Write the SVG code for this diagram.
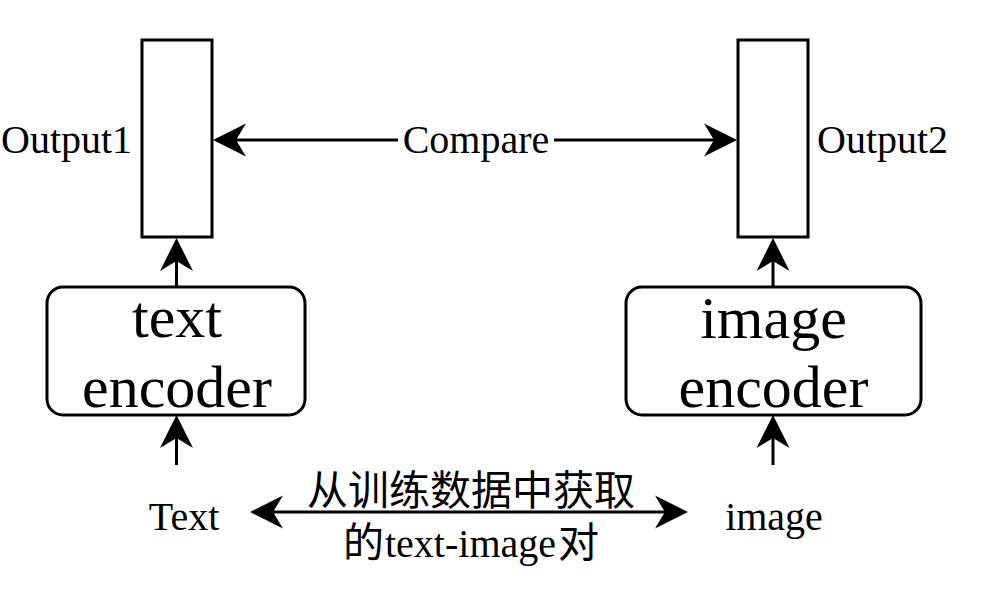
<svg xmlns="http://www.w3.org/2000/svg" width="993" height="595" viewBox="0 0 993 595">
<style>
.box{fill:#fff;stroke:#000;stroke-width:3}
.ln{fill:none;stroke:#000;stroke-width:3}
.t{font-family:"Liberation Serif","Times New Roman",serif;fill:#000}
.cn{font-family:"Noto Sans CJK SC",sans-serif;font-size:41px;fill:#000}
</style>
<defs>
<marker id="ah" markerUnits="userSpaceOnUse" markerWidth="34" markerHeight="34" viewBox="0 0 34 34" refX="13" refY="17" orient="auto-start-reverse">
<path d="M0,0.5 L33,17 L0,33.5 L10,17 Z" fill="#000"/>
</marker>
</defs>
<rect width="993" height="595" fill="#fff"/>
<g id="output1">
<rect class="box" x="142" y="40" width="70" height="197"/>
<text class="t" x="1" y="153" font-size="40">Output1</text>
</g>
<g id="output2">
<rect class="box" x="738" y="40" width="70" height="197"/>
<text class="t" x="817" y="153" font-size="40">Output2</text>
</g>
<g id="text-encoder">
<rect class="box" x="47" y="287" width="258" height="128" rx="16"/>
<text class="t" x="177" y="337" font-size="60" text-anchor="middle">text</text>
<text class="t" x="177" y="407" font-size="60" text-anchor="middle">encoder</text>
</g>
<g id="image-encoder">
<rect class="box" x="626" y="287" width="295" height="128" rx="16"/>
<text class="t" x="773.5" y="338" font-size="60" text-anchor="middle">image</text>
<text class="t" x="773.5" y="407" font-size="60" text-anchor="middle">encoder</text>
</g>
<g id="text-input">
<text class="t" x="184" y="530" font-size="40" text-anchor="middle">Text</text>
</g>
<g id="image-input">
<text class="t" x="774" y="530" font-size="40" text-anchor="middle">image</text>
</g>
<g id="connectors">
<path class="ln" d="M233,140 L717,140" marker-start="url(#ah)" marker-end="url(#ah)"/>
<rect x="398" y="121" width="156" height="40" fill="#fff"/>
<text class="t" x="476" y="153" font-size="40" text-anchor="middle">Compare</text>
<path class="ln" d="M176.5,287 L176.5,258" marker-end="url(#ah)"/>
<path class="ln" d="M773,287 L773,258" marker-end="url(#ah)"/>
<path class="ln" d="M176.5,465 L176.5,435" marker-end="url(#ah)"/>
<path class="ln" d="M773,465 L773,435" marker-end="url(#ah)"/>
<path class="ln" d="M270,512 L668,512" marker-start="url(#ah)" marker-end="url(#ah)"/>
<text class="cn" x="471" y="505" text-anchor="middle">从训练数据中获取</text>
<text class="cn" x="384" y="557" text-anchor="end">的</text>
<text class="t" x="385" y="557" font-size="40">text-image</text>
<text class="cn" x="558" y="557">对</text>
</g>
</svg>
